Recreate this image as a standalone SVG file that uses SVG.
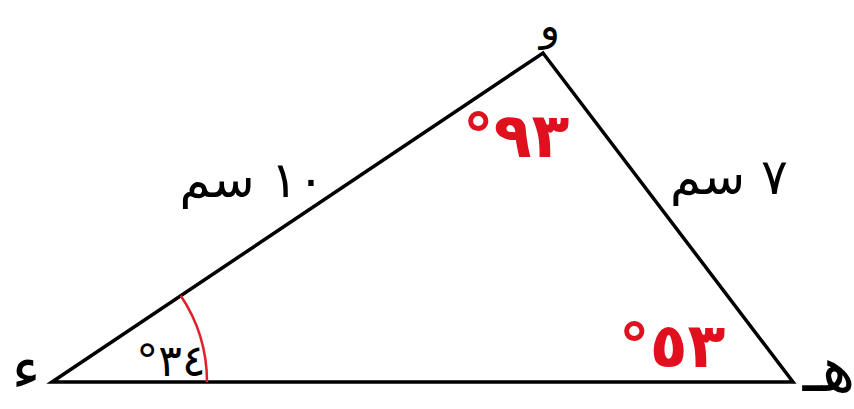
<svg xmlns="http://www.w3.org/2000/svg" width="854" height="409" viewBox="0 0 854 409">
<style>
.edge{stroke:#000;stroke-width:3.5;fill:none;stroke-linejoin:miter}
.arc{stroke:#e0202a;stroke-width:2.5;fill:none}
.lbl{font-family:"DejaVu Sans",sans-serif;fill:#000;text-anchor:middle}
.ang{font-family:"DejaVu Sans",sans-serif;fill:#e0101e;font-weight:bold;text-anchor:middle}
</style>
<rect width="854" height="409" fill="#fff"/>
<g id="connectors">
<path class="edge" d="M52 382 L543 53 L793 382 Z"/>
<path class="arc" d="M207 382 A155 155 0 0 0 180.8 295.7"/>
</g>
<g id="node-waw"><text class="lbl" x="550" y="40" font-size="42">و</text></g>
<g id="node-dal"><text class="lbl" x="26" y="390" font-size="62">ء</text></g>
<g id="node-ha"><text class="lbl" x="829" y="391" font-size="64">هـ</text></g>
<g id="side-wd"><text class="lbl" x="252" y="197" font-size="50">١٠ سم</text></g>
<g id="side-wh"><text class="lbl" x="729" y="194" font-size="50">٧ سم</text></g>
<g id="angle-d"><text class="lbl" x="171" y="376" font-size="44" direction="ltr" unicode-bidi="bidi-override">°٣٤</text></g>
<g id="angle-w"><text class="ang" x="516" y="157" font-size="62" direction="ltr" unicode-bidi="bidi-override">°٩٣</text></g>
<g id="angle-h"><text class="ang" x="672" y="367" font-size="62" direction="ltr" unicode-bidi="bidi-override">°٥٣</text></g>
</svg>
